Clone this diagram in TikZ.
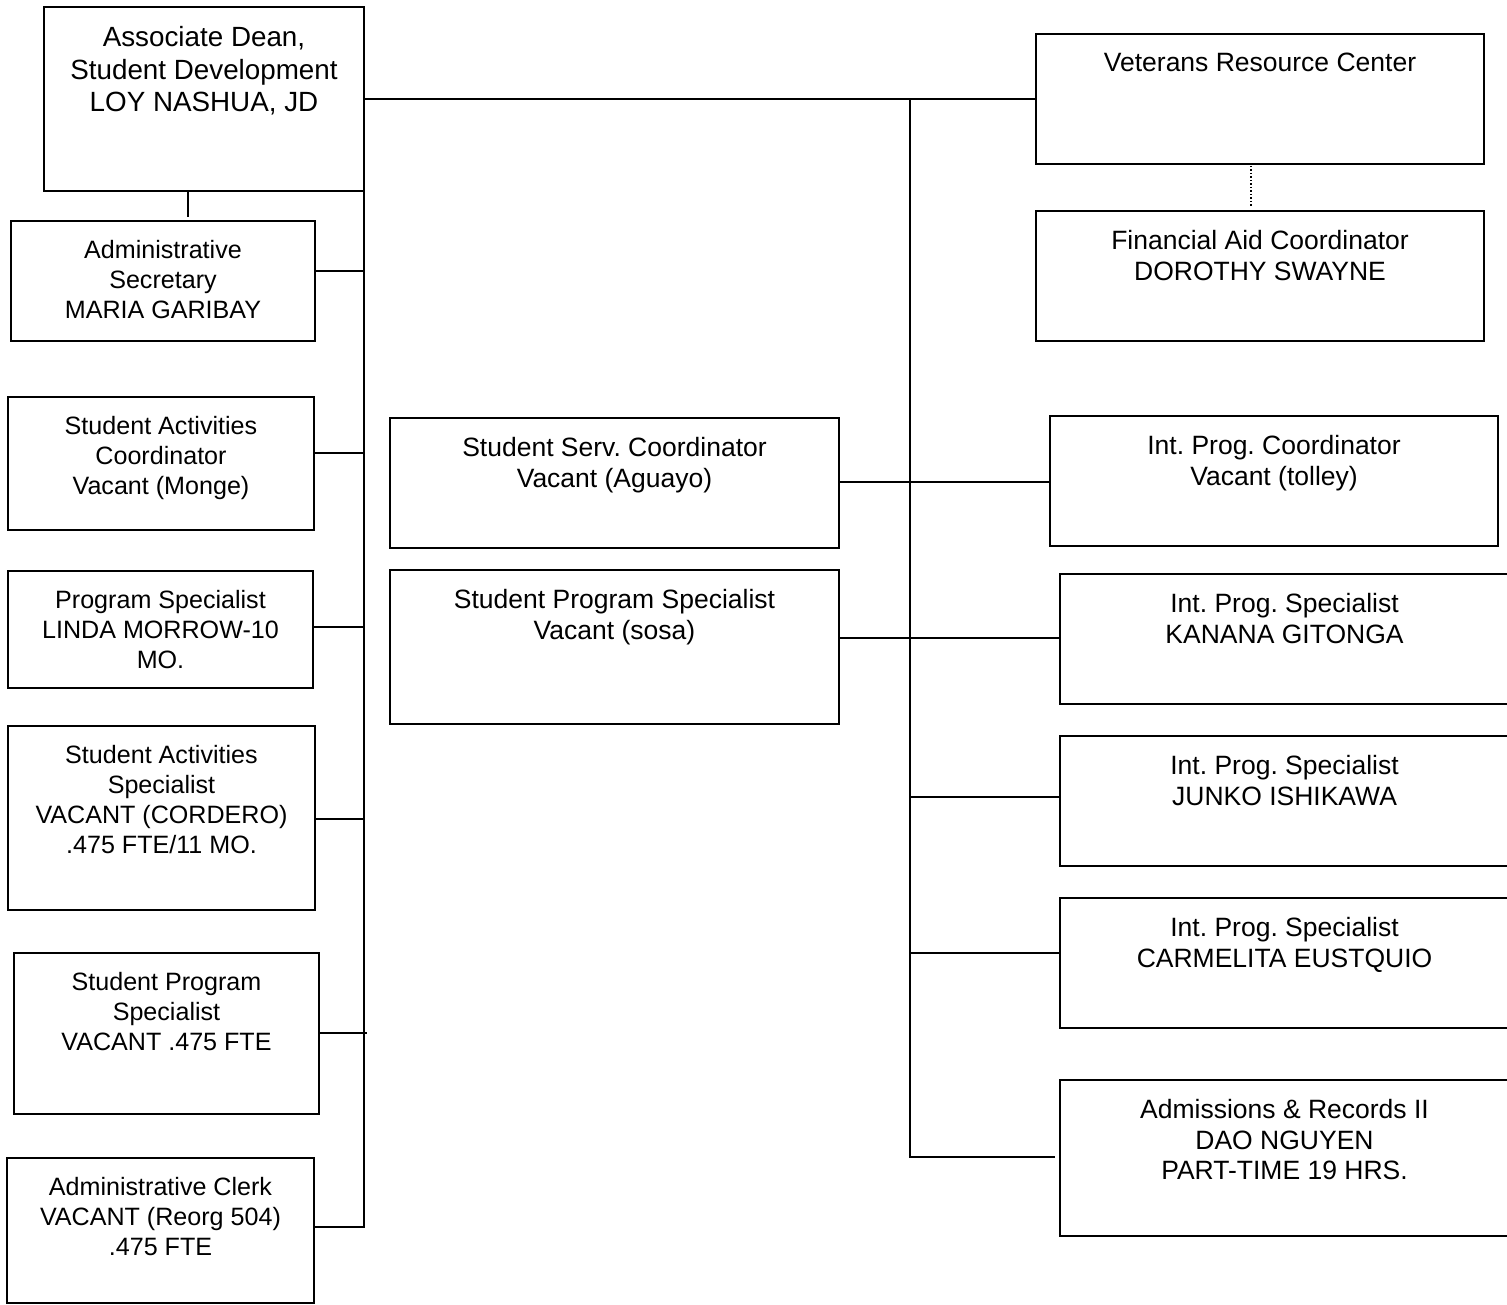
\documentclass[tikz,border=0pt]{standalone}
\usepackage{fontspec}
\setmainfont{Liberation Sans}
\frenchspacing
\tikzset{
  boxframe/.style={draw=black, line width=1pt, fill=none, inner sep=0pt, outer sep=0pt, anchor=north west},
  boxtext/.style={anchor=north, align=center, inner sep=0pt},
  lefttext/.style={font=\fontsize{12.55pt}{15pt}\selectfont},
  righttext/.style={font=\fontsize{13.25pt}{15.25pt}\selectfont},
  deantext/.style={font=\fontsize{13.9pt}{16.25pt}\selectfont},
  link/.style={draw=black, line width=0.75pt},
  dotlink/.style={draw=black, line width=0.75pt, densely dotted}
}
% \mkbox[text style]{name}{x1}{y1}{x2}{y2}{text}
\newcommand\mkbox[7][lefttext]{%
  \node[boxframe, minimum width={(#5-#3)*0.5pt}, minimum height={(#6-#4)*0.5pt}] (#2) at (#3,#4) {};
  \node[boxtext, #1] (#2-t) at ({(#3+#5)/2},{#4+19}) {#7};%
}
\begin{document}
\begin{tikzpicture}[x=0.5pt, y=-0.5pt]
\useasboundingbox (0,0) rectangle (1507,1304);
\clip (0,0) rectangle (1507,1304);
\fill[white] (0,0) rectangle (1507,1304);

% left column
\mkbox[deantext]{dean}{44}{7}{364}{191}{Associate Dean,\\ Student Development\\ LOY NASHUA, JD}
\mkbox{sec}{11}{221}{315}{341}{Administrative\\ Secretary\\ MARIA GARIBAY}
\mkbox{sac}{8}{397}{314}{530}{Student Activities\\ Coordinator\\ Vacant (Monge)}
\mkbox{ps}{8}{571}{313}{688}{Program Specialist\\ LINDA MORROW-10\\ MO.}
\mkbox{sas}{8}{726}{315}{910}{Student Activities\\ Specialist\\ VACANT (CORDERO)\\ .475 FTE/11 MO.}
\mkbox{spsl}{14}{953}{319}{1114}{Student Program\\ Specialist\\ VACANT .475 FTE}
\mkbox{clerk}{7}{1158}{314}{1303}{Administrative Clerk\\ VACANT (Reorg 504)\\ .475 FTE}

% middle column
\mkbox[righttext]{ssc}{390}{418}{839}{548}{Student Serv. Coordinator\\ Vacant (Aguayo)}
\mkbox[righttext]{spsm}{390}{570}{839}{724}{Student Program Specialist\\ Vacant (sosa)}

% right column
\mkbox[righttext]{vet}{1036}{34}{1484}{164}{Veterans Resource Center}
\mkbox[righttext]{fin}{1036}{211}{1484}{341}{Financial Aid Coordinator\\ DOROTHY SWAYNE}
\mkbox[righttext]{ipc}{1050}{416}{1498}{546}{Int. Prog. Coordinator\\ Vacant (tolley)}
\mkbox[righttext]{kan}{1060}{574}{1509}{704}{Int. Prog. Specialist\\ KANANA GITONGA}
\mkbox[righttext]{jun}{1060}{736}{1509}{866}{Int. Prog. Specialist\\ JUNKO ISHIKAWA}
\mkbox[righttext]{car}{1060}{898}{1509}{1028}{Int. Prog. Specialist\\ CARMELITA EUSTQUIO}
\mkbox[righttext]{adm}{1060}{1080}{1509}{1236}{Admissions \& Records II\\ DAO NGUYEN\\ PART-TIME 19 HRS.}

% junction coordinates
\coordinate (dsec) at (188,217);
\coordinate (jsec) at (364,271);
\coordinate (jsac) at (364,453);
\coordinate (jps) at (364,627);
\coordinate (jsas) at (364,819);
\coordinate (jspsl) at (367,1033);
\coordinate (jclerk) at (364,1227);
\coordinate (mtop) at (910,99);
\coordinate (mssc) at (910,482);
\coordinate (mspsm) at (910,638);
\coordinate (mjun) at (910,797);
\coordinate (mcar) at (910,953);
\coordinate (mbot) at (910,1157);
\coordinate (madm) at (1055,1157);
\coordinate (dotx) at (1251,0);

% connectors
\draw[link] (dean.south -| dsec) -- (dsec);
\draw[link] (dean.south east) -- (jclerk) -- (jclerk -| clerk.east);
\draw[link] (jsec -| sec.east) -- (jsec);
\draw[link] (jsac -| sac.east) -- (jsac);
\draw[link] (jps -| ps.east) -- (jps);
\draw[link] (jsas -| sas.east) -- (jsas);
\draw[link] (jspsl -| spsl.east) -- (jspsl);

\draw[link] (dean.east |- vet.west) -- (vet.west);
\draw[link] (mtop) -- (mbot) -- (madm);
\draw[link] (mssc -| ssc.east) -- (mssc -| ipc.west);
\draw[link] (mspsm -| spsm.east) -- (mspsm -| kan.west);
\draw[link] (mjun) -- (mjun -| jun.west);
\draw[link] (mcar) -- (mcar -| car.west);

\draw[dotlink] ([yshift=-1pt]vet.south -| dotx) -- ([yshift=1.5pt]fin.north -| dotx);
\end{tikzpicture}
\end{document}
